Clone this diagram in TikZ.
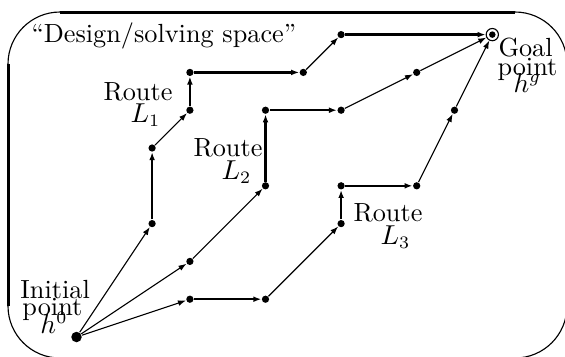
\documentclass[tikz,border=0pt]{standalone}
\usetikzlibrary{arrows.meta}
\begin{document}
\begin{tikzpicture}[x=0.4pt,y=-0.4pt,
  dot/.style={circle,fill,inner sep=0pt,minimum size=2.9pt},
  bigdot/.style={circle,fill,inner sep=0pt,minimum size=4.2pt},
  goalpt/.style={circle,draw,line width=0.45pt,inner sep=0pt,minimum size=4.9pt},
  ax/.style={line width=0.95pt,-{Latex[length=3.2pt,width=2.3pt]}},
  dg/.style={line width=0.45pt,-{Latex[length=3.2pt,width=2.3pt]}},
  lbl/.style={anchor=base west,inner sep=0pt,font=\fontsize{10.5}{12}\selectfont},
  framethin/.style={line width=0.45pt},
  framethick/.style={line width=1.2pt}]
\useasboundingbox (0,0) rectangle (565,356);
\clip (0,0) rectangle (565,356);
% frame
\draw[framethin, rounded corners=20.8pt] (8,12) rectangle (567,358);
\draw[framethick] (60,12) -- (515,12);
\draw[framethick] (8,64) -- (8,306);
% points
\node[bigdot] (h0) at (76.5,337) {};
\node[goalpt] (hg) at (492.3,34.6) {};
\fill (hg.center) circle (1.3pt);
% route L1
\node[dot] (a1) at (152.1,223.6) {};
\node[dot] (a2) at (152.1,148) {};
\node[dot] (a3) at (189.9,110.2) {};
\node[dot] (a4) at (189.9,72.4) {};
\node[dot] (a5) at (303.3,72.4) {};
\node[dot] (a6) at (341.1,34.6) {};
% route L2
\node[dot] (b1) at (189.9,261.4) {};
\node[dot] (b2) at (265.5,185.8) {};
\node[dot] (b3) at (265.5,110.2) {};
\node[dot] (b4) at (341.1,110.2) {};
\node[dot] (b5) at (416.7,72.4) {};
% route L3
\node[dot] (c1) at (189.9,299.2) {};
\node[dot] (c2) at (265.5,299.2) {};
\node[dot] (c3) at (341.1,223.6) {};
\node[dot] (c4) at (341.1,185.8) {};
\node[dot] (c5) at (416.7,185.8) {};
\node[dot] (c6) at (454.5,110.2) {};
% connectors L1
\draw[dg] (h0) -- (a1);
\draw[ax] (a1) -- (a2);
\draw[dg] (a2) -- (a3);
\draw[ax] (a3) -- (a4);
\draw[ax] (a4) -- (a5);
\draw[dg] (a5) -- (a6);
\draw[ax] (a6) -- (hg);
% connectors L2
\draw[dg] (h0) -- (b1);
\draw[dg] (b1) -- (b2);
\draw[ax] (b2) -- (b3);
\draw[ax] (b3) -- (b4);
\draw[dg] (b4) -- (b5);
\draw[dg] (b5) -- (hg);
% connectors L3
\draw[dg] (h0) -- (c1);
\draw[ax] (c1) -- (c2);
\draw[dg] (c2) -- (c3);
\draw[ax] (c3) -- (c4);
\draw[ax] (c4) -- (c5);
\draw[dg] (c5) -- (c6);
\draw[dg] (c6) -- (hg);
% labels
\node[lbl] (title) at (31,42.7) {``Design/solving space''};
\node[lbl] (r1) at (103,100.7) {Route};
\node[lbl] (l1) at (130,122.7) {$L_1$};
\node[lbl] (r2) at (193,156.7) {Route};
\node[lbl] (l2) at (221,179) {$L_2$};
\node[lbl] (r3) at (353,221.7) {Route};
\node[lbl] (l3) at (380,244) {$L_3$};
\node[lbl] (g1) at (498,56.7) {Goal};
\node[lbl] (g2) at (497,75) {point};
\node[lbl] (g3) at (513,92) {$h^g$};
\node[lbl] (i1) at (20,298) {Initial};
\node[lbl] (i2) at (22,315) {point};
\node[lbl] (i3) at (40,333) {$h^0$};
\end{tikzpicture}
\end{document}
